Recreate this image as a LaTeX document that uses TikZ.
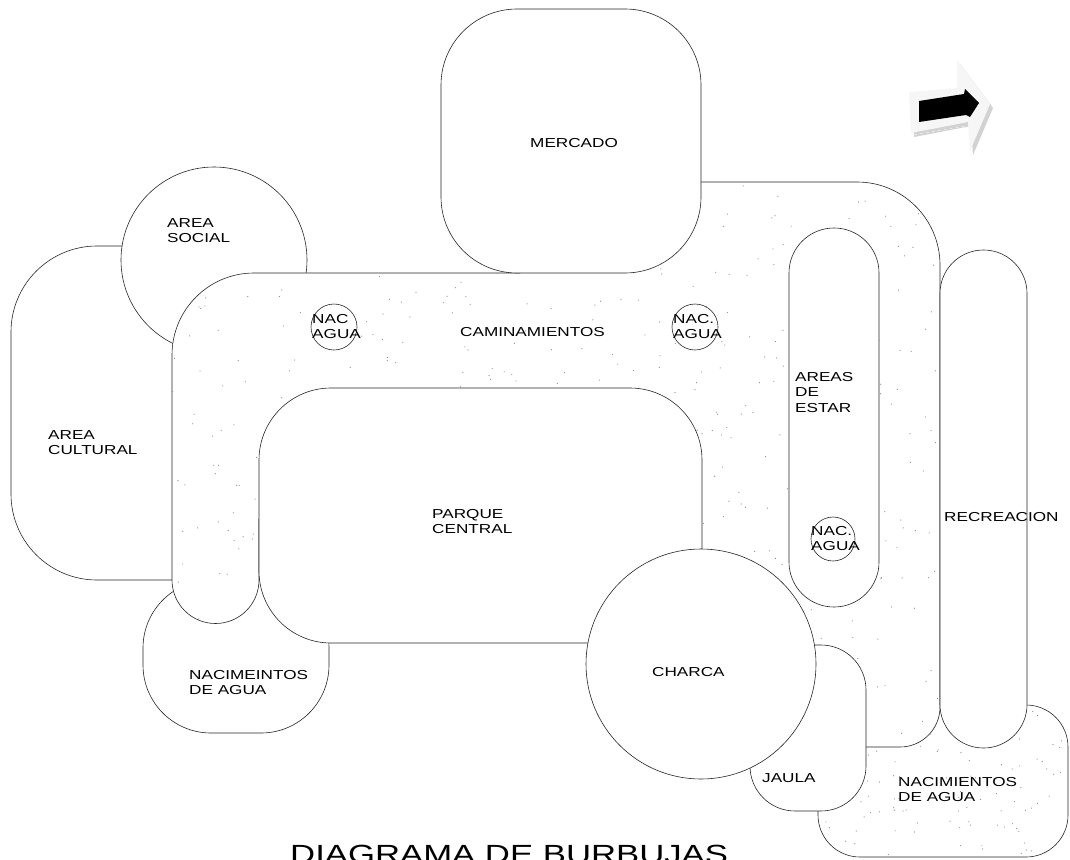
\documentclass[tikz,border=0pt]{standalone}
\usepackage{fontspec}
\newfontfamily\planfont[FakeStretch=1.32]{Liberation Sans}
\tikzset{
  bubble/.style={draw=black!85, fill=white, line width=0.6pt},
  lbl/.style={font=\planfont\fontsize{13}{15.5}\selectfont, align=left, anchor=north west, inner sep=0pt},
  speck/.style={fill=black!45},
}
\begin{document}
\begin{tikzpicture}[x=1pt,y=-1pt]
\useasboundingbox (0,0) rectangle (1070,859);
\fill[white] (0,0) rectangle (1070,859);
\def\walkpath{(172,580) -- (172,355) arc[start angle=180,end angle=270,radius=82] -- (520,273) -- (520,182) -- (857,182) arc[start angle=270,end angle=360,radius=83] -- (940,707) arc[start angle=0,end angle=90,radius=40] -- (780,747) -- (700,600) -- (300,600) -- (259,520) -- (259,580) arc[start angle=0,end angle=180,radius=43.5] -- cycle}
\draw[bubble,rounded corners=86pt] (11,246) rectangle (290,580);
\draw[bubble] (214,260) circle (93);
\draw[bubble,rounded corners=68pt] (143,580) rectangle (329,733);
\draw[bubble,rounded corners=42pt] (818,705) rectangle (1068,857);
\begin{scope}
  \clip[rounded corners=42pt] (818,705) rectangle (1068,857);
  \pgfmathsetseed{11}
  \foreach \k in {1,...,140}{\pgfmathsetmacro\px{818+250*rnd}\pgfmathsetmacro\py{705+152*rnd}\fill[speck] (\px,\py) circle (0.6);}
\end{scope}
\draw[bubble] \walkpath;
\begin{scope}
  \clip \walkpath;
  \pgfmathsetseed{5}
  \foreach \k in {1,...,650}{\pgfmathsetmacro\px{172+768*rnd}\pgfmathsetmacro\py{182+565*rnd}\fill[speck] (\px,\py) circle (0.6);}
\end{scope}
\draw[bubble,rounded corners=76pt] (441,9) rectangle (701,273);
\draw[bubble,rounded corners=44.9pt] (789,228) rectangle (879,607);
\draw[bubble,rounded corners=43.4pt] (940,250) rectangle (1027,748);
\draw[bubble,rounded corners=72pt] (259,388) rectangle (702,643);
\draw[bubble,rounded corners=45pt] (750,645) rectangle (866,811);
\draw[bubble] (701,664) circle (115);
\draw[bubble] (334,327) circle (23); \draw[bubble] (695,327) circle (23); \draw[bubble] (833,539) circle (22);
\draw(530,138) node[lbl] (mercado) {MERCADO};
\draw(167,218) node[lbl] (social) {AREA\\SOCIAL};
\draw(48,430) node[lbl] (cultural) {AREA\\CULTURAL};
\draw(460,327) node[lbl] (caminos) {CAMINAMIENTOS};
\draw(312,314) node[lbl] (nacuno) {NAC\\AGUA};
\draw(673,314) node[lbl] (nacdos) {NAC.\\AGUA};
\draw(811,526) node[lbl] (nactres) {NAC.\\AGUA};
\draw(795,372) node[lbl] (estar) {AREAS\\DE\\ESTAR};
\draw(432,509) node[lbl] (parque) {PARQUE\\CENTRAL};
\draw(944,512) node[lbl] (recrea) {RECREACION};
\draw(652,667) node[lbl] (charca) {CHARCA};
\draw(762,773) node[lbl] (jaula) {JAULA};
\draw(898,777) node[lbl] (nacder) {NACIMIENTOS\\DE AGUA};
\draw(189,670) node[lbl] (naciz) {NACIMEINTOS\\DE AGUA};
\fill[gray!35] (912,96) -- (960,92) -- (960,64) -- (993,108) -- (973,155) -- (971,126) -- (914,137) -- cycle;
\fill[gray!7] (909,92) -- (957,88) -- (957,60) -- (990,104) -- (970,151) -- (968,122) -- (911,133) -- cycle;
\fill[black] (919,101) -- (964,94) -- (965,89) -- (979,103) -- (970,117) -- (966,115) -- (919,122) -- cycle;
\draw[white,dashed] (914,135) -- (967,126);
\draw(290,845) node[anchor=north west,inner sep=0pt,font=\planfont\fontsize{26.3}{30}\selectfont] (titulo) {DIAGRAMA DE BURBUJAS};
\end{tikzpicture}
\end{document}
